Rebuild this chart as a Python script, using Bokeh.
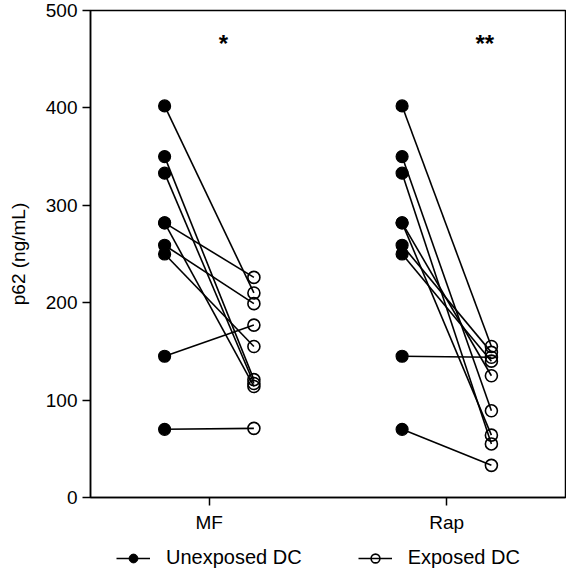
from bokeh.plotting import figure
from bokeh.layouts import column
from bokeh.models import ColumnDataSource, FactorRange, Legend, LegendItem, FixedTicker, Range1d
from bokeh.transform import dodge
from bokeh.core.properties import value
from bokeh.embed import file_html
from bokeh.resources import INLINE

categories = ["MF", "Rap"]
series_names = ["Unexposed DC", "Exposed DC"]
significance = ["*", "**"]

# paired values (ng/mL): unexposed DC vs exposed DC, one pair per donor
mf_unexposed = [402, 350, 333, 282, 282, 259, 250, 145, 70]
mf_exposed = [210, 121, 117, 226, 114, 199, 155, 177, 71]
rap_unexposed = [402, 350, 333, 282, 282, 259, 250, 145, 70]
rap_exposed = [155, 89, 55, 125, 64, 149, 140, 144, 33]

cat_col = [categories[0]] * len(mf_unexposed) + [categories[1]] * len(rap_unexposed)
before = mf_unexposed + rap_unexposed
after = mf_exposed + rap_exposed
src = ColumnDataSource(dict(cat=cat_col, before=before, after=after))

FONT = "Liberation Sans"

p = figure(x_range=FactorRange(*categories, range_padding=0), y_range=(0, 500),
           width=566, height=535, output_backend="svg", toolbar_location=None,
           min_border_left=90, min_border_right=1, min_border_top=10, min_border_bottom=36)

off = 0.188
xl = dodge("cat", -off, range=p.x_range)
xr = dodge("cat", off, range=p.x_range)

p.segment(x0=xl, y0="before", x1=xr, y1="after", source=src,
          line_color="black", line_width=1.6)
p.scatter(x=xl, y="before", source=src, size=12, marker="circle",
          fill_color="black", line_color="black", line_width=1.2)
p.scatter(x=xr, y="after", source=src, size=12, marker="circle",
          fill_color=None, line_color="black", line_width=1.6)

star_shift = [0.06, 0.16]
for cat, lab, dx in zip(categories, significance, star_shift):
    s = ColumnDataSource(dict(cat=[cat], lab=[lab], y=[466]))
    p.text(x=dodge("cat", dx, range=p.x_range), y="y", text="lab", source=s,
           text_align="center", text_baseline="middle", text_font=value(FONT),
           text_font_size="24px", text_font_style="bold", text_color="black")

p.grid.visible = False
p.outline_line_color = "black"
p.outline_line_width = 1.5

p.yaxis.ticker = FixedTicker(ticks=[0, 100, 200, 300, 400, 500])
p.yaxis.axis_label = "p62 (ng/mL)"
for ax in (p.xaxis[0], p.yaxis[0]):
    ax.axis_line_width = 1.5
    ax.axis_line_color = "black"
    ax.major_tick_line_width = 1.5
    ax.major_tick_line_color = "black"
    ax.major_tick_out = 8
    ax.major_tick_in = 0
    ax.minor_tick_line_color = None
    ax.major_label_text_font = FONT
    ax.major_label_text_font_size = "19px"
    ax.major_label_text_color = "black"
    ax.axis_label_text_font = FONT
    ax.axis_label_text_font_size = "19px"
    ax.axis_label_text_font_style = "normal"
    ax.axis_label_text_color = "black"
p.yaxis.major_label_standoff = 5
p.yaxis.axis_label_standoff = 14
p.xaxis.major_label_standoff = 6

# separate strip for the legend below the chart
lf = figure(width=566, height=37, output_backend="svg", toolbar_location=None,
            x_range=Range1d(0, 1), y_range=Range1d(0, 1), min_border=0)
lf.axis.visible = False
lf.grid.visible = False
lf.outline_line_color = None
leg_src = ColumnDataSource(dict(x=[-10], y=[-10]))
lg1 = lf.line(x="x", y="y", source=leg_src, line_color="black", line_width=1.6)
ls1 = lf.scatter(x="x", y="y", source=leg_src, size=11, fill_color="black", line_color="black")
lg2 = lf.line(x="x", y="y", source=leg_src, line_color="black", line_width=1.6)
ls2 = lf.scatter(x="x", y="y", source=leg_src, size=11, fill_color=None,
                 line_color="black", line_width=1.6)
legend = Legend(items=[LegendItem(label=series_names[0], renderers=[lg1, ls1]),
                       LegendItem(label=series_names[1], renderers=[lg2, ls2])],
                orientation="horizontal", location=(26, 3),
                label_text_font=FONT, label_text_font_size="20px", label_text_color="black",
                glyph_width=34, glyph_height=22, label_standoff=16, spacing=56,
                label_height=22, padding=0, margin=0, border_line_color=None,
                background_fill_alpha=0)
lf.add_layout(legend, "center")

layout = column(p, lf, spacing=0)
open("out.html", "w").write(file_html(layout, INLINE))
